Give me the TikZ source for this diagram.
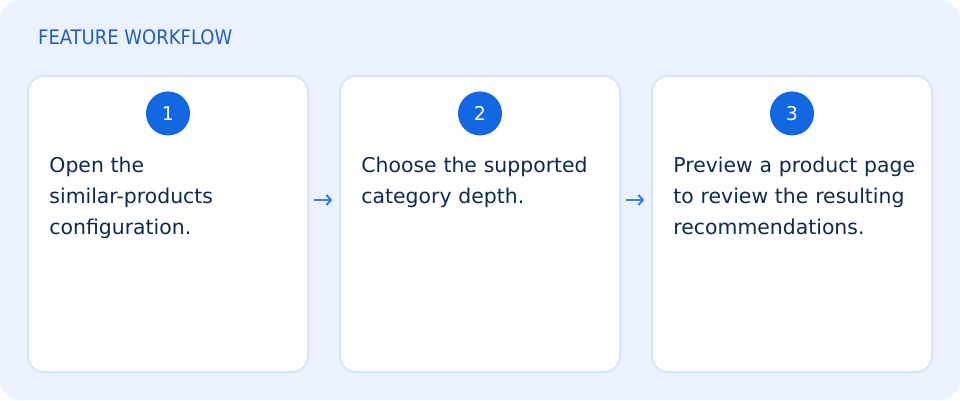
\documentclass[tikz,border=0pt]{standalone}
\usepackage{fontspec}
\setmainfont{DejaVu Sans}
\newfontfamily\headfont{DejaVu Sans Condensed}
\usetikzlibrary{arrows.meta,positioning}
\definecolor{panelbg}{HTML}{EBF2FE}
\definecolor{cardline}{HTML}{D2E0F5}
\definecolor{headblue}{HTML}{1F5FBF}
\definecolor{badgeblue}{HTML}{1467E3}
\definecolor{flowblue}{HTML}{3080F0}
\definecolor{inkdark}{HTML}{10294D}
\newcommand{\Wc}{280}
\newcommand{\Hc}{296}
\newcommand{\Pitch}{312}
\def\steps{
  1/{Open the\\similar-products\\configuration.},
  2/{Choose the supported\\category depth.},
  3/{Preview a product page\\to review the resulting\\recommendations.}
}
\tikzset{
  panel/.style    = {fill=panelbg, rounded corners=20pt},
  card/.style     = {draw=cardline, line width=1.5pt, fill=white, rounded corners=16pt,
                     minimum width=\Wc pt, minimum height=\Hc pt, inner sep=0pt},
  badge/.style    = {circle, fill=badgeblue, text=white, minimum size=44pt, inner sep=0pt,
                     font=\fontsize{19}{19}\selectfont},
  steptext/.style = {text=inkdark, text width=250pt, align=left, inner sep=0pt,
                     font=\fontsize{20.4}{31}\selectfont},
  headline/.style = {text=headblue, inner sep=0pt, font=\headfont\fontsize{20}{20}\selectfont},
  flow/.style     = {-{Straight Barb[length=4.5pt,width=10pt,line width=2pt]}, line width=2pt,
                     color=flowblue, shorten <=5pt, shorten >=7pt}
}

\begin{document}
\begin{tikzpicture}[x=1pt, y=-1pt]
    % Panel behind everything
    \useasboundingbox (0,0) rectangle (960,400);
    \fill[panel] (0,0) rectangle (960,400);

    % Heading
    \node[headline, anchor=base west] (head) at (38,44) {FEATURE WORKFLOW};

    % Step cards with badge and text
    \foreach \n/\txt in \steps {
      \node[card] (card\n) at ({28+(\n-1)*\Pitch+\Wc/2}, 224) {};
      \node[badge, below=16pt of card\n.north] (num\n) {\n};
      \node[steptext, anchor=base west] (txt\n)
        at ([xshift=22pt, yshift=-97.5pt]card\n.north west) {\txt};
    }

    % Arrows between the cards
    \foreach \a/\b in {1/2, 2/3}{
      \draw[flow] ([yshift=24pt]card\a.east) -- ([yshift=24pt]card\b.west);
    }
\end{tikzpicture}
\end{document}
